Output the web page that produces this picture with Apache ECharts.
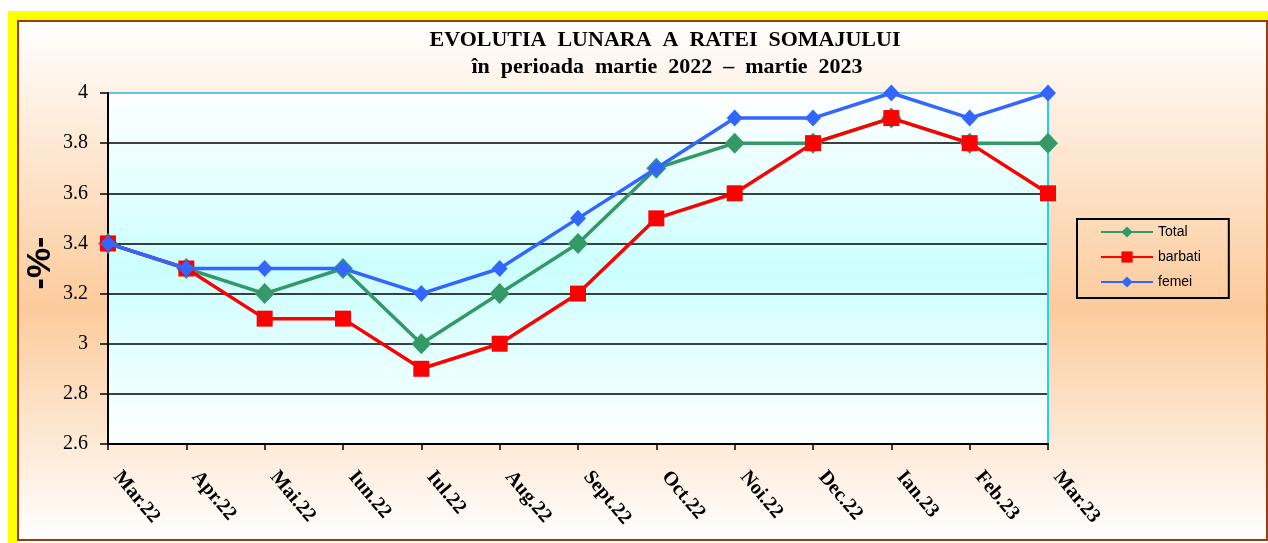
<!DOCTYPE html>
<html>
<head>
<meta charset="utf-8">
<script src="https://cdn.jsdelivr.net/npm/echarts@6/dist/echarts.min.js"></script>
<style>
html,body{margin:0;padding:0;background:#ffffff;}
#chart{width:1268px;height:543px;}
</style>
</head>
<body>
<div id="chart"></div>
<script>
const categories = ['Mar.22','Apr.22','Mai.22','Iun.22','Iul.22','Aug.22','Sept.22','Oct.22','Noi.22','Dec.22','Ian.23','Feb.23','Mar.23'];
const total   = [3.4, 3.3, 3.2, 3.3, 3.0, 3.2, 3.4, 3.7, 3.8, 3.8, 3.9, 3.8, 3.8];
const barbati = [3.4, 3.3, 3.1, 3.1, 2.9, 3.0, 3.2, 3.5, 3.6, 3.8, 3.9, 3.8, 3.6];
const femei   = [3.4, 3.3, 3.3, 3.3, 3.2, 3.3, 3.5, 3.7, 3.9, 3.9, 4.0, 3.9, 4.0];
const yTickLabels = ['2.6','2.8','3','3.2','3.4','3.6','3.8','4'];
const yMin = 2.6, yMax = 4, yStep = 0.2;
const titleLines = ['EVOLUTIA  LUNARA  A  RATEI  SOMAJULUI', 'în  perioada  martie  2022  –  martie  2023'];
const yAxisTitle = '-%-';

const chart = echarts.init(document.getElementById('chart'), null, {renderer:'canvas'});
const grad = (stops) => new echarts.graphic.LinearGradient(0,0,0,1,stops.map(s=>({offset:s[0],color:s[1]})));
const titleFont = {fontFamily:'Liberation Serif', fontWeight:'bold', fontSize:22, fill:'#000', align:'center', verticalAlign:'middle'};

const option = {
  animation:false,
  graphic:[
    {type:'rect', z:-10, shape:{x:19,y:22,width:1248,height:518}, style:{fill:grad([[0,'#ffffff'],[0.55,'#fccb9c'],[1,'#ffffff']])}},
    {type:'rect', z:-9, shape:{x:12.5,y:15.5,width:1270,height:535}, style:{fill:null, stroke:'#ffff00', lineWidth:9}},
    {type:'rect', z:-8, shape:{x:18,y:21,width:1249,height:519}, style:{fill:null, stroke:'#9c3b0c', lineWidth:2}},
    {type:'text', z:10, style:Object.assign({text:titleLines[0], x:665, y:40}, titleFont)},
    {type:'text', z:10, style:Object.assign({text:titleLines[1], x:667, y:67}, titleFont)},
    {type:'text', z:10, x:41, y:263, rotation:Math.PI/2,
      style:{text:yAxisTitle, fontFamily:'Liberation Sans', fontWeight:'bold', fontSize:34, fill:'#000', align:'center', verticalAlign:'middle'}}
  ],
  legend:{
    orient:'vertical', left:1077, top:219,
    padding:[6,28,9,23], itemGap:11, itemWidth:52, itemHeight:14,
    borderColor:'#000', borderWidth:2, backgroundColor:'transparent',
    textStyle:{fontFamily:'Liberation Sans', fontSize:14, color:'#000'},
    data:['Total','barbati','femei']
  },
  grid:{left:108, top:93, right:220, bottom:99, show:true, borderWidth:0,
    backgroundColor:grad([[0,'#ffffff'],[0.5,'#ccffff'],[1,'#ffffff']])},
  xAxis:{
    type:'category', data:categories, boundaryGap:false,
    axisLine:{lineStyle:{color:'#000', width:2}},
    axisTick:{show:true, length:6, lineStyle:{color:'#000', width:1.5}},
    axisLabel:{rotate:-50, margin:19, padding:[0,0,0,14], color:'#000', fontFamily:'Liberation Serif', fontWeight:'bold', fontSize:20},
    splitLine:{show:false}
  },
  yAxis:[{
    type:'value', min:yMin, max:yMax, interval:yStep,
    axisLine:{show:true, lineStyle:{color:'#000', width:2}},
    axisTick:{show:true, length:8, lineStyle:{color:'#000', width:1.5}},
    axisLabel:{margin:20, color:'#000', fontFamily:'Liberation Serif', fontSize:20,
      formatter:(v)=>yTickLabels[Math.round((v-yMin)/yStep)]},
    splitLine:{show:true, lineStyle:{color:['#000','#000','#000','#000','#000','#000','#000','#22bde0'], width:1.5}}
  },{
    type:'value', min:yMin, max:yMax, interval:yStep, position:'right',
    axisLine:{show:true, lineStyle:{color:'#22d0f0', width:2}},
    axisTick:{show:false}, axisLabel:{show:false}, splitLine:{show:false}
  }],
  series:[
    {name:'Total', type:'line', data:total, color:'#339966', symbol:'diamond', symbolSize:[20,21],
      lineStyle:{width:3.5, color:'#339966'}, itemStyle:{color:'#339966'}, z:2},
    {name:'barbati', type:'line', data:barbati, color:'#ff0000', symbol:'rect', symbolSize:16,
      lineStyle:{width:3.5, color:'#ff0000'}, itemStyle:{color:'#ff0000'}, z:3},
    {name:'femei', type:'line', data:femei, color:'#3366ff', symbol:'diamond', symbolSize:[16,17],
      lineStyle:{width:3.5, color:'#3366ff'}, itemStyle:{color:'#3366ff'}, z:4}
  ]
};
chart.setOption(option);
</script>
</body>
</html>
